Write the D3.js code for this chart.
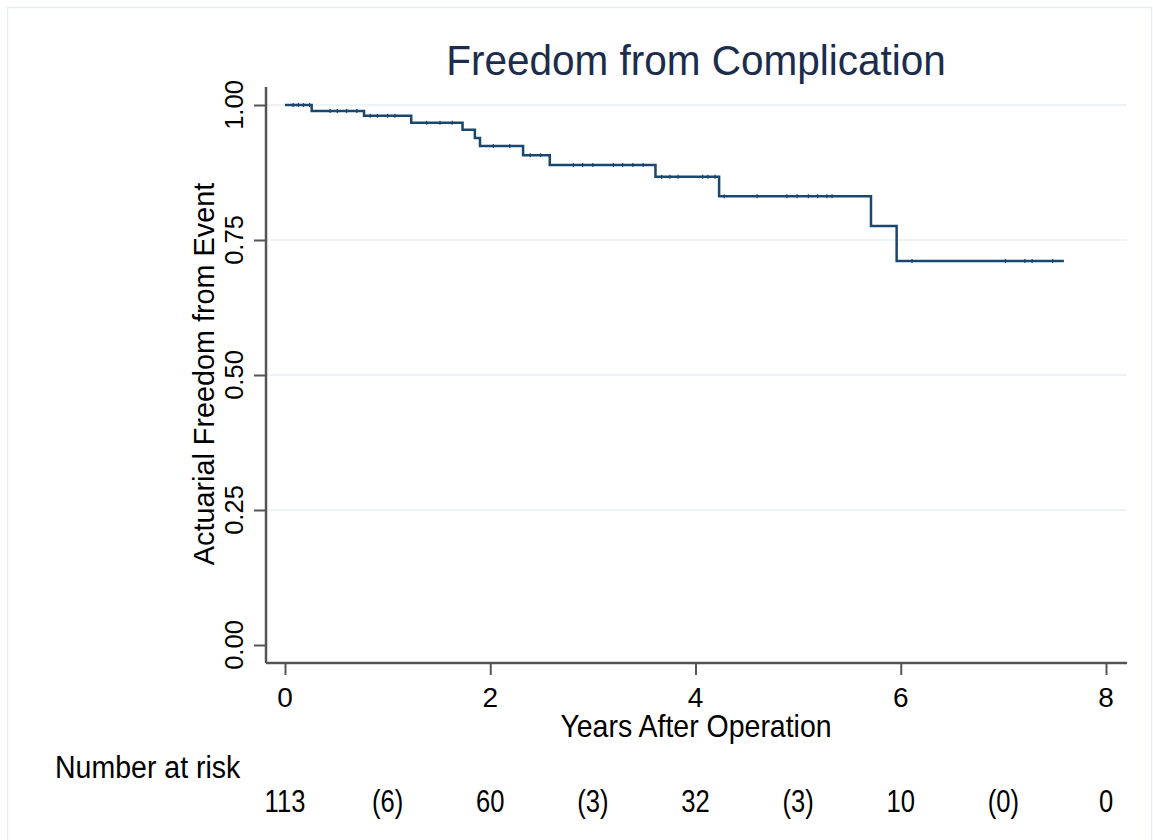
<!DOCTYPE html>
<html>
<head>
<meta charset="utf-8">
<script src="https://cdn.jsdelivr.net/npm/d3@7"></script>
<style>
  body { margin: 0; background: #fff; }
  text { font-family: "Liberation Sans", Arial, sans-serif; }
</style>
</head>
<body>
<div id="chart"></div>
<script>
// Kaplan-Meier step data (years, survival)
var stepTimes = [0, 0.26, 0.77, 1.23, 1.73, 1.85, 1.90, 2.32, 2.58, 3.61, 4.23, 5.71, 5.96];
var stepSurv = [1.0, 0.989, 0.980, 0.967, 0.954, 0.939, 0.924, 0.907, 0.889, 0.867, 0.831, 0.776, 0.711];
var endTime = 7.59;

// censored observations (years)
var censorTimes = [0.08, 0.13, 0.18, 0.24, 0.44, 0.51, 0.60, 0.70, 0.83, 0.90, 1.0, 1.07,
  1.38, 1.51, 1.63, 2.03, 2.19, 2.39, 2.49, 2.81, 2.90, 3.0, 3.20, 3.29, 3.39, 3.49,
  3.67, 3.75, 3.83, 4.07, 4.12, 4.19, 4.28, 4.60, 4.89, 4.99, 5.10, 5.19, 5.28, 5.33,
  6.11, 7.02, 7.21, 7.28, 7.48];

var xTicks = [0, 2, 4, 6, 8];
var yTicks = [0, 0.25, 0.5, 0.75, 1];
var yTickLabels = ["0.00", "0.25", "0.50", "0.75", "1.00"];
var riskYears = [0, 1, 2, 3, 4, 5, 6, 7, 8];
var riskLabels = ["113", "(6)", "60", "(3)", "32", "(3)", "10", "(0)", "0"];

var svgWidth = 1153;
var svgHeight = 840;

var svg = d3.select("#chart")
  .append("svg")
  .attr("width", svgWidth)
  .attr("height", svgHeight);

// outer frame
svg.append("rect")
  .attr("x", 7.5).attr("y", 7.5)
  .attr("width", 1144).attr("height", 840)
  .attr("fill", "none")
  .attr("stroke", "#e6edf3")
  .attr("stroke-width", 1.5);

var x = d3.scaleLinear().domain([0, 8]).range([285, 1106]);
var y = d3.scaleLinear().domain([0, 1]).range([645, 105]);

var xLo = -0.185, xHi = 8.205;
var yLo = -0.0333, yHi = 1.0333;

// gridlines
svg.append("g")
  .selectAll("line")
  .data(yTicks.filter(d => d > 0))
  .enter()
  .append("line")
  .attr("x1", x(xLo)).attr("x2", x(xHi))
  .attr("y1", d => y(d)).attr("y2", d => y(d))
  .attr("stroke", "#e9f1f3")
  .attr("stroke-width", 1.5);

// axes
var axisColor = "#555";
var xAxis = d3.axisBottom(x).tickValues(xTicks).tickSize(12).tickFormat("");
var yAxis = d3.axisLeft(y).tickValues(yTicks).tickSize(12).tickFormat("");

var gx = svg.append("g")
  .attr("transform", `translate(0, ${y(yLo)})`)
  .call(xAxis);
gx.select(".domain").remove();
gx.selectAll("line").attr("stroke", axisColor).attr("stroke-width", 2);

var gy = svg.append("g")
  .attr("transform", `translate(${x(xLo)}, 0)`)
  .call(yAxis);
gy.select(".domain").remove();
gy.selectAll("line").attr("stroke", axisColor).attr("stroke-width", 2);

svg.append("line")
  .attr("x1", x(xLo)).attr("x2", x(xHi))
  .attr("y1", y(yLo)).attr("y2", y(yLo))
  .attr("stroke", axisColor).attr("stroke-width", 2.5);
svg.append("line")
  .attr("x1", x(xLo)).attr("x2", x(xLo))
  .attr("y1", y(yLo)).attr("y2", y(yHi))
  .attr("stroke", axisColor).attr("stroke-width", 2.5);

// tick labels
svg.append("g")
  .selectAll("text")
  .data(xTicks)
  .enter()
  .append("text")
  .attr("x", d => x(d))
  .attr("y", 707)
  .attr("text-anchor", "middle")
  .attr("font-size", "28px")
  .attr("fill", "#000")
  .text(d => d);

svg.append("g")
  .selectAll("text")
  .data(yTicks)
  .enter()
  .append("text")
  .attr("transform", (d, i) => `translate(243, ${y(d)}) rotate(-90)`)
  .attr("text-anchor", "middle")
  .attr("font-size", "25.5px")
  .attr("fill", "#000")
  .text((d, i) => yTickLabels[i]);

// curve
var pts = [];
stepTimes.forEach((t, i) => pts.push([t, stepSurv[i]]));
pts.push([endTime, stepSurv[stepSurv.length - 1]]);

var line = d3.line()
  .x(d => x(d[0]))
  .y(d => y(d[1]))
  .curve(d3.curveStepAfter);

var curveColor = "#1a476f";
svg.append("path")
  .datum(pts)
  .attr("d", line)
  .attr("fill", "none")
  .attr("stroke", curveColor)
  .attr("stroke-width", 2.5);

function survAt(t) {
  var s = 1;
  stepTimes.forEach((st, i) => { if (st <= t) s = stepSurv[i]; });
  return s;
}

svg.append("g")
  .selectAll("line")
  .data(censorTimes)
  .enter()
  .append("line")
  .attr("x1", d => x(d)).attr("x2", d => x(d))
  .attr("y1", d => y(survAt(d)) - 2)
  .attr("y2", d => y(survAt(d)) + 2)
  .attr("stroke", curveColor)
  .attr("stroke-width", 1.3);

// titles
svg.append("text")
  .attr("transform", "translate(696, 75) scale(1, 1.05)")
  .attr("text-anchor", "middle")
  .attr("font-size", "40.5px")
  .attr("fill", "#1c2c4c")
  .text("Freedom from Complication");

svg.append("text")
  .attr("transform", `translate(696, 737) scale(1, 1.1)`)
  .attr("text-anchor", "middle")
  .attr("font-size", "28.5px")
  .attr("fill", "#000")
  .text("Years After Operation");

svg.append("text")
  .attr("transform", `translate(214, 374) rotate(-90) scale(1, 1.05)`)
  .attr("text-anchor", "middle")
  .attr("font-size", "28.8px")
  .attr("fill", "#000")
  .text("Actuarial Freedom from Event");

// number at risk
svg.append("text")
  .attr("transform", "translate(55, 778) scale(0.92, 1)")
  .attr("font-size", "31px")
  .attr("fill", "#000")
  .text("Number at risk");

svg.append("g")
  .selectAll("text")
  .data(riskYears)
  .enter()
  .append("text")
  .attr("transform", d => `translate(${x(d)}, 812) scale(0.8, 1)`)
  .attr("text-anchor", "middle")
  .attr("font-size", "32px")
  .attr("fill", "#000")
  .text((d, i) => riskLabels[i]);
</script>
</body>
</html>
